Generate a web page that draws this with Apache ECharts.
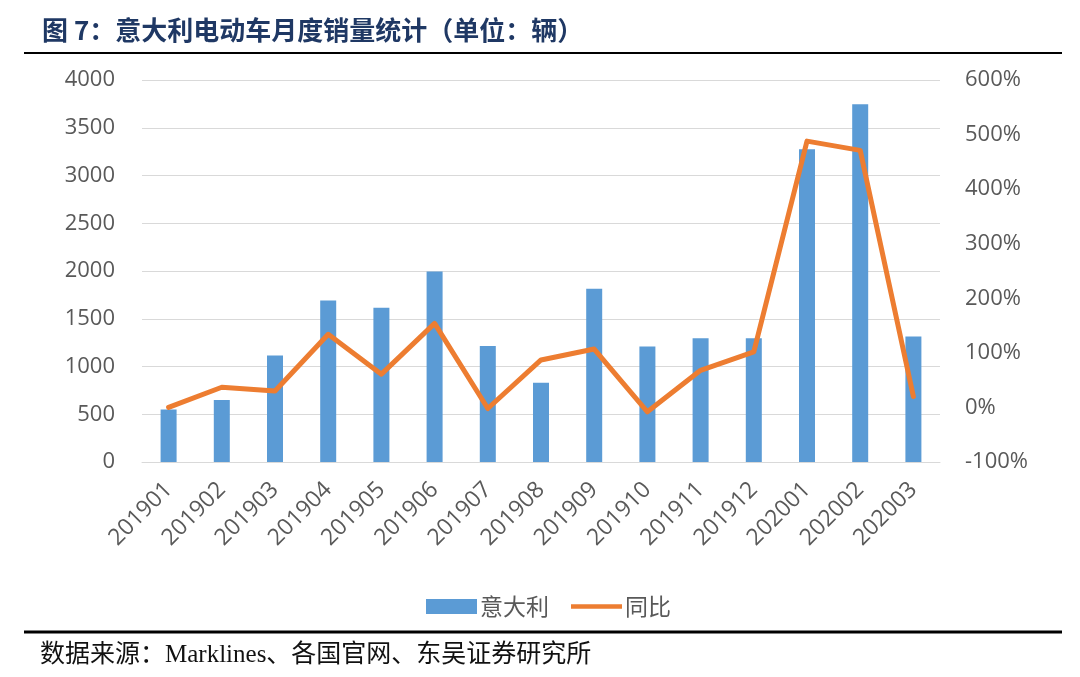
<!DOCTYPE html>
<html>
<head>
<meta charset="utf-8">
<script src="https://cdn.jsdelivr.net/npm/echarts@6/dist/echarts.min.js"></script>
<style>
html,body{margin:0;padding:0;background:#fff;}
#chart{width:1080px;height:677px;}
</style>
</head>
<body>
<div id="chart"></div>
<script>
const months = ['201901','201902','201903','201904','201905','201906','201907','201908','201909','201910','201911','201912','202001','202002','202003'];
const sales = [550, 650, 1115, 1690, 1615, 1995, 1215, 830, 1815, 1210, 1295, 1295, 3275, 3745, 1315];
const yoy = [0, 37, 30, 134, 61, 154, -2, 87, 107, -8, 68, 102, 488, 471, 20];
const seriesNames = ['意大利', '同比'];
const titleText = '图 7：意大利电动车月度销量统计（单位：辆）';
const sourceText = '数据来源：Marklines、各国官网、东吴证券研究所';

const chart = echarts.init(document.getElementById('chart'), null, {renderer: 'canvas'});
const axisFont = '"Open Sans", "Noto Sans CJK SC", sans-serif';
const option = {
  backgroundColor: '#ffffff',
  animation: false,
  title: {
    text: titleText,
    left: 37,
    top: 12,
    textStyle: {
      fontFamily: '"Noto Sans CJK SC", sans-serif',
      fontWeight: 'bold',
      fontSize: 26,
      color: '#1F3864'
    }
  },
  graphic: [
    {type: 'line', shape: {x1: 24, y1: 53, x2: 1062, y2: 53}, style: {stroke: '#000', lineWidth: 2}},
    {type: 'line', shape: {x1: 24, y1: 632, x2: 1062, y2: 632}, style: {stroke: '#000', lineWidth: 3}},
    {type: 'text', left: 40, top: 643, style: {text: sourceText, fontFamily: '"Liberation Serif", "Noto Sans CJK SC", serif', fontSize: 25, fill: '#111'}}
  ],
  legend: {
    left: 421,
    top: 590,
    itemWidth: 51,
    itemHeight: 15,
    itemGap: 22,
    textStyle: {fontFamily: '"Noto Sans CJK SC", sans-serif', fontSize: 23, color: '#595959', padding: [0,0,0,-2]},
    data: [
      {name: seriesNames[0], icon: 'rect'},
      {name: seriesNames[1], icon: 'path://M0,0 L54,0 L54,5 L0,5 Z'}
    ]
  },
  grid: {left: 142, right: 140, top: 80, bottom: 215},
  xAxis: {
    type: 'category',
    data: months,
    axisLine: {lineStyle: {color: '#D9D9D9', width: 1}},
    axisTick: {show: false},
    axisLabel: {rotate: 45, margin: 24, fontFamily: axisFont, fontSize: 23, color: '#595959', interval: 0}
  },
  yAxis: [
    {
      type: 'value', min: 0, max: 4000, interval: 500,
      axisLine: {show: false}, axisTick: {show: false},
      splitLine: {lineStyle: {color: '#D9D9D9', width: 1}},
      axisLabel: {margin: 27, fontFamily: axisFont, fontSize: 22, color: '#595959', formatter: function (v) { return String(v); }}
    },
    {
      type: 'value', min: -100, max: 600, interval: 100,
      axisLine: {show: false}, axisTick: {show: false},
      splitLine: {show: false},
      axisLabel: {margin: 25, fontFamily: axisFont, fontSize: 22, color: '#595959', formatter: '{value}%'}
    }
  ],
  series: [
    {
      name: seriesNames[0], type: 'bar', data: sales, barWidth: 16,
      itemStyle: {color: '#5B9BD5'}
    },
    {
      name: seriesNames[1], type: 'line', yAxisIndex: 1, data: yoy,
      symbol: 'none', smooth: false, z: 5,
      lineStyle: {color: '#ED7D31', width: 5, cap: 'round', join: 'round'},
      itemStyle: {color: '#ED7D31'}
    }
  ]
};
chart.setOption(option);
</script>
</body>
</html>
